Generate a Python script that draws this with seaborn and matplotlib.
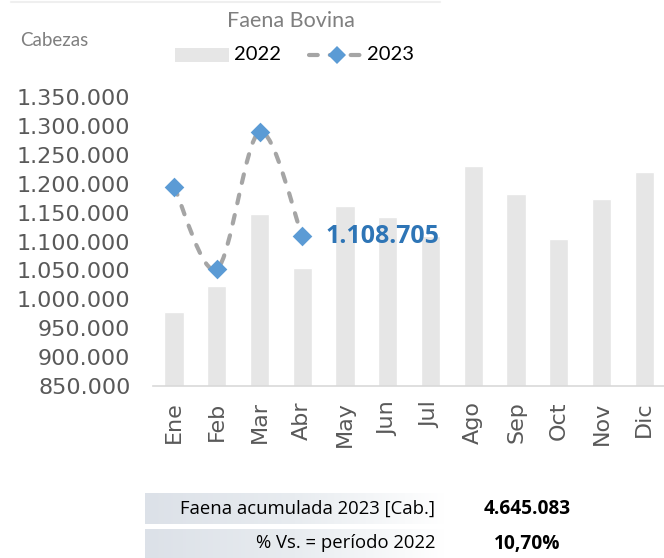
import numpy as np
import pandas as pd
import matplotlib
matplotlib.use("Agg")
import matplotlib.pyplot as plt
from matplotlib.path import Path
from matplotlib.patches import PathPatch, Rectangle
from matplotlib.lines import Line2D
import seaborn as sns

# ==============================
# DATA
# ==============================

meses = ["Ene", "Feb", "Mar", "Abr", "May", "Jun",
         "Jul", "Ago", "Sep", "Oct", "Nov", "Dic"]

faena_2022 = [977500, 1023500, 1147600, 1053600, 1161400, 1142400,
              1109500, 1231100, 1181600, 1103800, 1173000, 1219700]

faena_2023 = [1195000, 1052000, 1289378, 1108705]

ytick_vals = [850000, 900000, 950000, 1000000, 1050000, 1100000,
              1150000, 1200000, 1250000, 1300000, 1350000]

titulo = "Faena Bovina"
eje_y = "Cabezas"
etiqueta_ultimo = "1.108.705"
tabla_textos = ["Faena acumulada 2023 [Cab.]", "% Vs. = período 2022"]
tabla_valores = ["4.645.083", "10,70%"]


def miles(v):
    return f"{v:,.0f}".replace(",", ".")


# ==============================
# STYLE
# ==============================

sns.set_style("white")
plt.rcParams['font.family'] = ['DejaVu Sans']

narrow = ['Liberation Sans Narrow', 'DejaVu Sans Condensed', 'Lato', 'DejaVu Sans']
gris_txt = "#595959"
bar_col = "#E6E6E6"
azul = "#5B9BD5"
linea_col = "#A5A5A5"
dash = (0, (2.1, 2.9))

W, H = 664, 558
fig = plt.figure(figsize=(W / 100, H / 100), dpi=100)

# main axes (pixel positions)
ax = fig.add_axes([152.7 / W, 1 - 386 / H, 513 / W, 289 / H])

df22 = pd.DataFrame({"mes": meses, "valor": faena_2022})
sns.barplot(data=df22, x="mes", y="valor", color=bar_col, width=0.45,
            saturation=1, ax=ax, zorder=1)

# smoothed dashed line (Excel style) through the 2023 points
xs = np.arange(len(faena_2023), dtype=float)
ys = np.array(faena_2023, dtype=float)
pts = np.column_stack([xs, ys])
verts = [tuple(pts[0])]
codes = [Path.MOVETO]
n = len(pts)
for i in range(n - 1):
    p0 = pts[max(i - 1, 0)]
    p1 = pts[i]
    p2 = pts[i + 1]
    p3 = pts[min(i + 2, n - 1)]
    c1 = p1 + (p2 - p0) / 6
    c2 = p2 - (p3 - p1) / 6
    verts += [tuple(c1), tuple(c2), tuple(p2)]
    codes += [Path.CURVE4] * 3
ax.add_patch(PathPatch(Path(verts, codes), fill=False, edgecolor=linea_col,
                       lw=3, linestyle=dash, capstyle="round", zorder=3))

df23 = pd.DataFrame({"mes": meses[:len(faena_2023)], "valor": faena_2023})
sns.scatterplot(data=df23, x="mes", y="valor", marker="D", s=100,
                color=azul, edgecolor=azul, linewidth=0, ax=ax, zorder=4,
                legend=False)

ax.annotate(etiqueta_ultimo, xy=(len(faena_2023) - 1, faena_2023[-1]),
            xytext=(17, 0), textcoords="offset points", ha="left", va="center",
            fontsize=18, fontweight="bold", color="#2E75B6",
            family=['Open Sans', 'DejaVu Sans'])

ax.set_xlim(-0.5, len(meses) - 0.5)
ax.set_ylim(ytick_vals[0], ytick_vals[-1])
ax.set_yticks(ytick_vals)
ax.set_yticklabels([miles(v) for v in ytick_vals])
ax.set_xlabel("")
ax.set_ylabel("")
ax.tick_params(axis="y", length=0, pad=16, labelsize=16, labelcolor=gris_txt)
ax.tick_params(axis="x", which="major", length=0, pad=11, labelsize=16,
               labelcolor=gris_txt, labelrotation=90)
ax.set_xticks(np.arange(-0.5, len(meses)), minor=True)
ax.tick_params(axis="x", which="minor", length=4, width=1, color="#D9D9D9",
               direction="out")
sns.despine(ax=ax, left=True, top=True, right=True)
ax.spines["bottom"].set_color("#D9D9D9")
ax.spines["bottom"].set_linewidth(1.2)

# ==============================
# DECORATIONS (pixel overlay)
# ==============================

ov = fig.add_axes([0, 0, 1, 1], zorder=-1)
ov.set_xlim(0, W)
ov.set_ylim(H, 0)
ov.axis("off")

ov.plot([11, 440], [1.5, 1.5], color="#EFEFEF", lw=1.5)

ov.text(291, 21, titulo, ha="center", va="center", fontsize=15.5,
        color="#7F7F7F", family=narrow)
ov.text(20, 41, eje_y, ha="left", va="center", fontsize=13.5,
        color="#7F7F7F", family=narrow)

# legend
ov.add_patch(Rectangle((175, 48), 54, 14, color=bar_col, lw=0))
ov.text(234, 55, "2022", ha="left", va="center", fontsize=14.5,
        color="black", family=narrow)
ov.add_line(Line2D([309, 361], [55, 55], color=linea_col, lw=3,
                   linestyle=dash, dash_capstyle="round"))
ov.plot([337], [55], marker="D", markersize=9.5, color=azul, mew=0)
ov.text(367, 55, "2023", ha="left", va="center", fontsize=14.5,
        color="black", family=narrow)

# summary table with fading boxes
grad = np.linspace(0, 1, 256).reshape(1, -1)
cmap = matplotlib.colors.LinearSegmentedColormap.from_list(
    "fade", ["#DCE1E8", "#E8ECF0", "#FFFFFF"])
filas = [(493, 524), (529, 558)]
for (y0, y1), txt, val in zip(filas, tabla_textos, tabla_valores):
    ov.imshow(grad, cmap=cmap, extent=(145, 445, y1, y0), aspect="auto",
              zorder=0)
    yc = (y0 + y1) / 2
    ov.text(435, yc, txt, ha="right", va="center", fontsize=13.3,
            color="black", family=['Open Sans', 'DejaVu Sans'], zorder=2)
    ov.text(527, yc, val, ha="center", va="center", fontsize=13.8,
            fontweight="bold", color="black",
            family=['Open Sans', 'DejaVu Sans'], zorder=2)
ov.set_xlim(0, W)
ov.set_ylim(H, 0)

fig.savefig("out.png", dpi=100, facecolor="white")
